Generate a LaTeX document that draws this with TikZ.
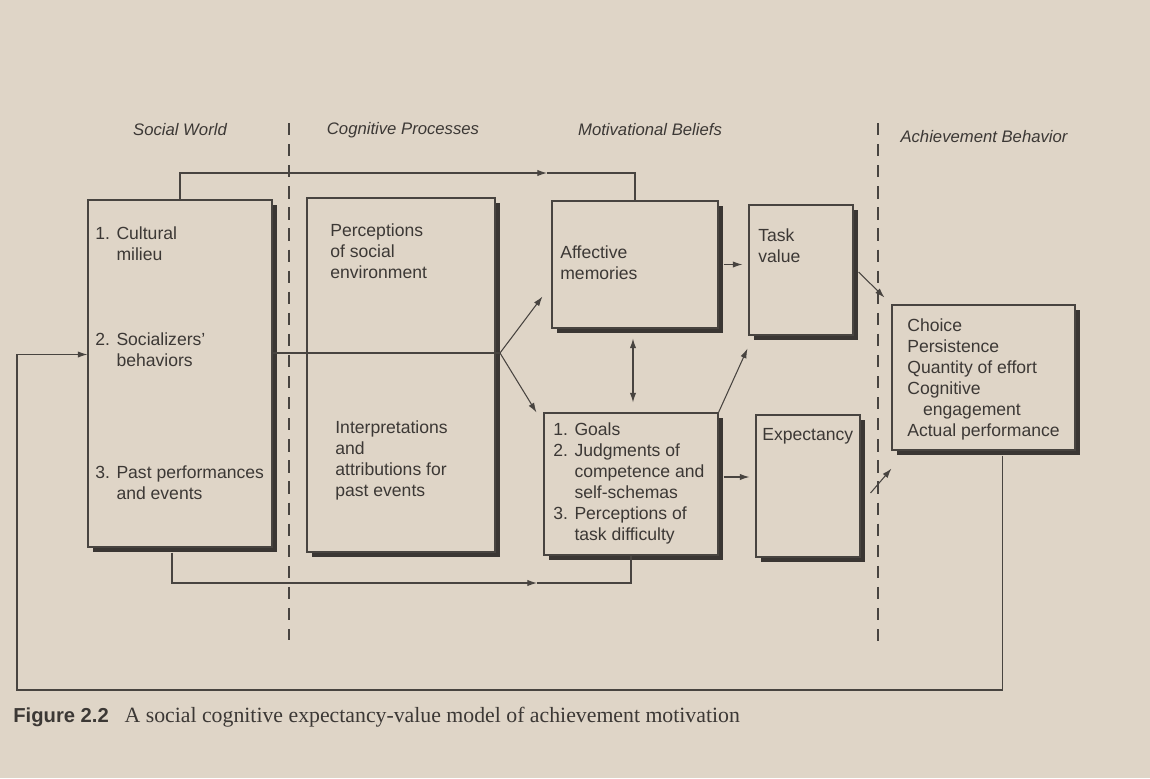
\documentclass[tikz,border=0pt]{standalone}
\usepackage{fontspec}
\setmainfont{Liberation Sans}
\newfontfamily\capfont{Liberation Serif}
\usepackage{tikz}
\usetikzlibrary{arrows.meta,calc,fit,shadows,positioning}
\definecolor{paper}{RGB}{223,213,199}
\definecolor{ink}{RGB}{72,68,64}
\definecolor{txt}{RGB}{60,56,53}
\newcommand{\ind}{\hphantom{1. }}
\tikzset{
    >={Latex[length=5.5pt,width=3.6pt]},->,auto,semithick,
    x=0.02cm,y=-0.02cm,
    box/.style={draw=ink, fill=paper, line width=0.6pt, inner sep=0pt,
        drop shadow={shadow xshift=2.6pt,shadow yshift=-2.6pt,fill=ink!80!black,opacity=1}},
    lbl/.style={anchor=north west, inner sep=0pt, align=left, text=txt, font=\fontsize{10}{12}\selectfont},
    head/.style={text=txt, inner sep=0pt, font=\fontsize{9.5}{11}\selectfont\itshape},
    link/.style={draw=ink, line width=0.6pt},
    divider/.style={-, draw=ink, line width=0.6pt, dash pattern=on 7pt off 5pt}
}

\begin{document}
\begin{tikzpicture}
    \path[use as bounding box, fill=paper] (0,0) rectangle (1150,778);

    % column headings and dividers
    \node[head] (hSW) at (180,130) {Social World};
    \node[head] (hCP) at (403,130) {Cognitive Processes};
    \node[head] (hMB) at (650,130) {Motivational Beliefs};
    \node[head] (hAB) at (984,137) {Achievement Behavior};
    \draw[divider] (289,123) -- (289,640);
    \draw[divider] (878,123) -- (878,647);

    % boxes
    \node[box, fit={(88,200) (272,547)}] (sw) {};
    \node[box, fit={(307,198) (495,552)}] (cp) {};
    \node[box, fit={(552,201) (718,328)}] (af) {};
    \node[box, fit={(749,205) (853,335)}] (tv) {};
    \node[box, fit={(544,413) (718,555)}] (goals) {};
    \node[box, fit={(756,415) (860,557)}] (exp) {};
    \node[box, fit={(892,305) (1075,450)}] (ach) {};

    \node[lbl] (sw1) at (95,226) {1. Cultural\\\ind milieu};
    \node[lbl] (sw2) at (95,332) {2. Socializers'\\\ind behaviors};
    \node[lbl] (sw3) at (95,465) {3. Past performances\\\ind and events};
    \node[lbl] (cpTop) at (330,223) {Perceptions\\of social\\environment};
    \node[lbl] (cpBot) at (335,420) {Interpretations\\and\\attributions for\\past events};
    \node[lbl] (afTxt) at (560,245) {Affective\\memories};
    \node[lbl] (tvTxt) at (758,228) {Task\\value};
    \node[lbl] (glTxt) at (553,422) {1. Goals\\2. Judgments of\\\ind competence and\\\ind self-schemas\\3. Perceptions of\\\ind task difficulty};
    \node[lbl] (exTxt) at (762,428) {Expectancy};
    \node[lbl] (acTxt) at (907,318) {Choice\\Persistence\\Quantity of effort\\Cognitive\\\hspace*{0.9em}engagement\\Actual performance};

    % connectors
    \coordinate (topArr) at (547,173);
    \coordinate (botArr) at (537,583);
    \coordinate (split) at (500,353);
    \coordinate (fbCorner) at (17,690);

    \draw[link] (sw.north) |- (topArr);
    \draw[link,-] (topArr) -| (af.north);
    \draw[link] ($(sw.south)+(-8,5)$) |- (botArr);
    \draw[link,-] (botArr) -| (goals.south);
    \draw[link,-] (sw.east |- split) -- (split);
    \draw[link] (split) -- ($(af.west)+(-9,32)$);
    \draw[link] (split) -- ($(goals.north west)+(-7,0)$);
    \draw[link] ($(af.east)+(5,0)$) -- ($(af.east -| tv.west)+(-6,0)$);
    \draw[link,<->] ($(af.south)+(-2,10)$) -- ($(af.south |- goals.north)+(-2,-10)$);
    \draw[link] (goals.north east) -- ($(tv.south west)+(-1,13)$);
    \draw[link] ($(goals.east)+(5,-7)$) -- ($(goals.east -| exp.west)+(-6,-7)$);
    \draw[link] ($(tv.east)+(5,2)$) -- ($(ach.north west)+(-7,-7)$);
    \draw[link] ($(exp.east)+(10,7)$) -- ($(ach.south west)+(0,18)$);
    \draw[link] ($(ach.south)+(19,5)$) |- (fbCorner) |- ($(sw.west)+(0,-19)$);

    % caption
    \node[anchor=west, inner sep=0pt, text=txt] (cap) at (13,717)
        {{\fontsize{11.5}{13}\selectfont\bfseries Figure 2.2}\hspace{9pt}{\capfont\fontsize{12.4}{14}\selectfont A social cognitive expectancy-value model of achievement motivation}};
\end{tikzpicture}
\end{document}
